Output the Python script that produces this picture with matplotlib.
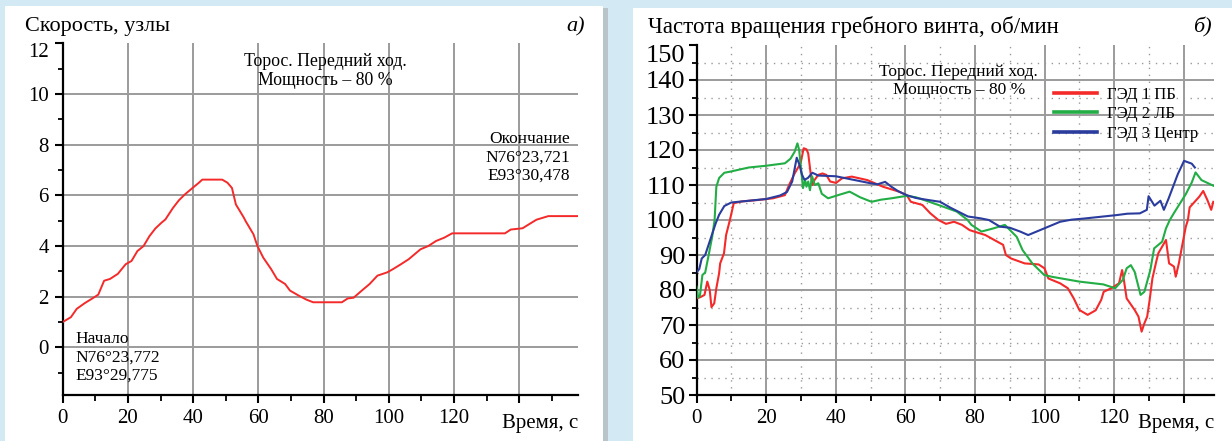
"""Speed and propeller RPM during an ice-ridge run (two panels)."""

import matplotlib.pyplot as plt
from matplotlib.patches import Rectangle
from matplotlib.lines import Line2D

plt.rcParams["font.family"] = ["Liberation Serif", "DejaVu Serif"]

# --- panel a: ship speed, knots ---
speed_t = [0, 2.5, 4.3, 6.7, 9.7, 10.9, 12.7, 14.5, 16.9, 19.3, 21.1, 22.9, 24.8,
           26.6, 28.4, 30.2, 31.5, 33.8, 35.6, 37.4, 39.8, 41.6, 42.8, 48.9, 50.5,
           51.9, 53.1, 55.5, 56.1, 58.5, 59.7, 61.5, 63.9, 65.7, 68.2, 69.7, 72.4,
           74.8, 76.8, 85.6, 87.4, 89.2, 91.7, 94.1, 96.5, 99.5, 101.3, 103.7,
           106.1, 108.5, 109.7, 112.1, 114.5, 117.0, 119.4, 135.6, 137.4, 141.0,
           143.5, 145.3, 148.9, 158]
speed_v = [1.0, 1.19, 1.52, 1.74, 1.98, 2.08, 2.63, 2.7, 2.9, 3.28, 3.41, 3.8, 4.0,
           4.39, 4.69, 4.91, 5.05, 5.5, 5.8, 6.03, 6.29, 6.48, 6.62, 6.62, 6.5,
           6.29, 5.64, 5.13, 4.98, 4.46, 4.0, 3.54, 3.09, 2.7, 2.5, 2.24, 2.04,
           1.88, 1.78, 1.78, 1.93, 1.96, 2.24, 2.5, 2.83, 2.96, 3.09, 3.28,
           3.48, 3.74, 3.87, 4.0, 4.2, 4.33, 4.5, 4.5, 4.65, 4.7,
           4.9, 5.04, 5.18, 5.18]

# --- panel b: propeller shaft speed, rpm ---
red_t = [0, 1.2, 2.3, 3.1, 3.8, 4.3, 5.1, 5.7, 6.5, 6.8, 7.9, 8.5, 9.6, 10.7, 13.0,
         17.5, 22.0, 25.4, 26.6, 28.2, 29.9, 30.8, 31.6, 32.1, 32.8, 33.3, 33.9,
         35.0, 36.2, 37.3, 38.4, 40.1, 41.8, 44.6, 49.1, 53.6, 58.2, 60.4, 61.6,
         64.9, 67.2, 69.5, 71.7, 74.0, 76.3, 78.5, 83.0, 88.1, 88.9, 90.4, 94.3,
         98.3, 100.0, 101.1, 104.5, 106.7, 108.4, 110.0, 112.4, 114.7, 116.3,
         117.0, 119.2, 121.4, 122.3, 122.8, 123.6, 125.9, 127.0, 127.9, 128.7,
         129.5, 130.2, 131.0, 132.1, 132.7, 133.8, 134.9, 135.8, 137.2, 137.7,
         138.6, 139.5, 140.6, 141.2, 141.7, 144.5, 145.6, 146.8, 147.9, 148.5]
red_v = [77.6, 78.0, 78.6, 82.4, 80.0, 75.1, 76.2, 80.5, 84.8, 87.6, 90.5, 95.7,
         100.0, 104.8, 105.3, 105.7, 106.2, 107.1, 110.0, 113.3, 116.2, 120.5,
         120.2, 119.0, 113.3, 110.0, 111.4, 112.9, 113.3, 112.9, 111.0, 110.6,
         111.9, 112.4, 111.4, 109.5, 108.1, 107.1, 105.2, 104.3, 101.9, 100.0,
         98.9, 99.5, 98.6, 97.1, 95.7, 92.9, 90.0, 89.0, 87.6, 87.3, 86.2, 83.3,
         81.9, 80.5, 77.6, 74.3, 72.9, 74.2, 77.2, 79.5, 80.5, 81.9, 85.7, 82.9,
         77.6, 74.3, 72.4, 68.1, 70.5, 72.4, 77.1, 83.3, 88.1, 90.5, 92.4, 94.3,
         87.6, 86.7, 83.8, 87.6, 92.4, 98.1, 100.0, 103.6, 106.7, 108.3, 105.7,
         102.9, 105.2]

green_t = [0, 0.5, 1.0, 1.7, 2.5, 3.4, 4.5, 5.2, 5.7, 6.5, 8.0, 9.6, 15, 20, 25.4,
           27.0, 28.2, 29.0, 29.5, 30.0, 30.6, 31.2, 31.6, 32.1, 32.6, 33.2, 34.0,
           35.0, 36.0, 37.8, 41.0, 44.0, 47.0, 50.3, 53.0, 56.0, 60.4, 63.0, 66.0,
           69.5, 74.8, 77.9, 79.0, 81.9, 85.3, 88.6, 92.0, 93.7, 96.5, 99.9, 102.0,
           110.0, 116.9, 120.3, 122.5, 123.6, 124.8, 125.9, 127.6, 128.7, 130.4,
           131.5, 133.8, 134.9, 136.0, 137.2, 140.6, 142.3, 143.4, 145.1, 148.5]
green_v = [81, 77.8, 78.5, 84.3, 85, 89.5, 95.2, 100, 109.5, 112, 113.5, 113.8,
           115, 115.5, 116.2, 117.5, 119.5, 121.9, 120, 115, 109.1, 111.5, 109.5,
           111, 108.5, 112.5, 110, 110.5, 107.5, 106.2, 107.2, 108.1, 106.5, 105.2,
           105.8, 106.2, 106.9, 106.5, 105.5, 104.3, 102.4, 100, 98.6, 96.7, 97.6,
           98.6, 95.2, 91.4, 87.6, 84.3, 83.8, 82.4, 81.6, 80.5, 82.9, 86.2, 87.1,
           85.2, 78.6, 79.5, 85.7, 91.9, 93.8, 97.6, 100, 102, 107.4, 110.7, 113.6,
           111.4, 109.8]

blue_t = [0, 0.8, 1.5, 2.5, 3.5, 4.5, 5.5, 6.5, 8, 10, 15, 20, 24, 26, 27.5, 28.8,
          29.5, 30.3, 31, 32, 33.3, 35, 40, 45, 50, 52, 54.2, 56, 58, 60.4, 63, 66,
          70, 73, 76, 78, 81.5, 84, 87.2, 90, 93, 95.3, 98.7, 104.5, 107.8, 111.2,
          115, 120.7, 123.8, 127.4, 129.4, 129.9, 131.6, 133.3, 134.3, 135.6,
          138.3, 140.1, 142.3, 143.2]
blue_v = [85, 86, 89, 90, 93, 96, 99, 101.5, 104, 105, 105.5, 106, 107, 108, 111,
          117.8, 116, 113, 111.5, 112, 113.5, 112.7, 112.5, 111.5, 110.5, 110.2,
          110.9, 109.5, 108.2, 107.1, 106.3, 105.8, 105.2, 103.5, 102, 101, 100.5,
          100, 98.1, 97.8, 96.7, 95.7, 97.1, 99.5, 100.1, 100.4, 100.8, 101.4,
          101.8, 101.9, 102.9, 106.8, 104.1, 105.5, 102.9, 106.0, 113.1, 116.9,
          116.1, 115]

motor_labels = ["ГЭД 1 ПБ", "ГЭД 2 ЛБ", "ГЭД 3 Центр"]
motor_colors = ["#f42a2a", "#22ad45", "#2a3c9e"]

W, H = 1232, 441
GRID = "#9b9b9b"


def style_axis(ax, xlabel_size, ylabel_size):
    for side in ("top", "right"):
        ax.spines[side].set_visible(False)
    for side in ("left", "bottom"):
        ax.spines[side].set_linewidth(1.6)
        ax.spines[side].set_color("black")
    ax.set_facecolor("white")
    ax.tick_params(axis="x", which="major", direction="out", length=6, width=1.5,
                   labelsize=xlabel_size, pad=4)
    ax.tick_params(axis="x", which="minor", direction="out", length=4, width=1.3)
    ax.tick_params(axis="y", which="major", direction="out", length=6, width=1.5,
                   labelsize=ylabel_size, pad=4)
    ax.tick_params(axis="y", which="minor", direction="out", length=3.5, width=1.3)


def solid_grid(ax, xs, ys):
    for x in xs:
        ax.axvline(x, color=GRID, linewidth=1.4, linestyle="solid", zorder=1.5)
    for y in ys:
        ax.axhline(y, color=GRID, linewidth=1.4, linestyle="solid", zorder=1.5)


fig = plt.figure(figsize=(W / 100, H / 100), dpi=100)
fig.patch.set_facecolor("#d3e9f3")
# white card backgrounds behind the two panels
for x0, w, top, col in [(5, 598, 6, "white"), (603, 5, 8, "#b9c4c9"),
                        (633, 600, 8, "white")]:
    fig.add_artist(Rectangle((x0 / W, 0), w / W, 1 - top / H, transform=fig.transFigure,
                             facecolor=col, edgecolor="none", zorder=-5))

# ---------------- panel a ----------------
ax1 = fig.add_axes([62.7 / W, 1 - 395 / H, 515.3 / W, 351.7 / H])
ax1.plot(speed_t, speed_v, color=motor_colors[0], lw=1.4, zorder=3)
ax1.set_xlim(0, 158)
ax1.set_ylim(-1.88, 12)
ax1.set_xticks(range(0, 141, 20))
ax1.set_xticklabels([str(v) for v in range(0, 121, 20)] + [""])
ax1.set_xticks(range(10, 160, 20), minor=True)
ax1.set_yticks(range(0, 13, 2))
ax1.set_yticks(range(-1, 12, 2), minor=True)
style_axis(ax1, 15, 15)
solid_grid(ax1, range(20, 141, 20), range(0, 11, 2))
ax1.yaxis.get_major_ticks()[-1].label1.set_va("top")
ax1.text(1.0, -0.055, "Время, с", transform=ax1.transAxes, ha="right", va="top",
         fontsize=15)

fig.text(25 / W, 1 - 27 / H, "Скорость, узлы", fontsize=16, va="center", ha="left")
fig.text(585 / W, 1 - 27 / H, "а)", fontsize=16, style="italic", va="center", ha="right")
ax1.text(0.51, 10.9, "Торос. Передний ход.\nМощность – 80 %", ha="center",
         va="center", fontsize=12.8, linespacing=1.15,
         transform=ax1.get_yaxis_transform())
ax1.text(0.985, 7.5, "Окончание\nN76°23,721\nE93°30,478", ha="right", va="center",
         fontsize=12.5, linespacing=1.2, transform=ax1.get_yaxis_transform())
ax1.text(0.025, -0.4, "Начало\nN76°23,772\nE93°29,775", ha="left", va="center",
         fontsize=12.5, linespacing=1.2, transform=ax1.get_yaxis_transform())

# ---------------- panel b ----------------
ax2 = fig.add_axes([696.5 / W, 1 - 395 / H, 517.5 / W, 350 / H])
for (tt, vv), c in zip([(red_t, red_v), (green_t, green_v), (blue_t, blue_v)],
                       motor_colors):
    ax2.plot(tt, vv, color=c, lw=1.5, zorder=3)
ax2.set_xlim(0, 148.7)
ax2.set_ylim(50, 150)
ax2.set_xticks(range(0, 141, 20))
ax2.set_xticklabels([str(v) for v in range(0, 121, 20)] + [""])
ax2.set_xticks(range(10, 150, 20), minor=True)
ax2.set_yticks(range(50, 151, 10))
ax2.set_yticks(range(55, 150, 10), minor=True)
style_axis(ax2, 15, 19)
ax2.tick_params(axis="y", which="major", pad=2)
solid_grid(ax2, range(20, 141, 20), range(60, 141, 10))
for x in range(10, 150, 20):
    ax2.axvline(x, color="#9a9a9a", lw=1.0, ls=(0, (1, 4)), zorder=1)
for y in range(55, 150, 10):
    ax2.axhline(y, color="#9a9a9a", lw=1.0, ls=(0, (1, 4)), zorder=1)
ax2.yaxis.get_major_ticks()[-1].label1.set_va("top")
ax2.text(1.0, -0.055, "Время, с", transform=ax2.transAxes, ha="right", va="top",
         fontsize=15)

fig.text(648 / W, 1 - 27 / H, "Частота вращения гребного винта, об/мин", fontsize=16.5,
         va="center", ha="left")
fig.text(1212 / W, 1 - 27 / H, "б)", fontsize=16, style="italic", va="center", ha="right")
ax2.text(0.507, 139.8, "Торос. Передний ход.\nМощность – 80 %", ha="center",
         va="center", fontsize=12.5, linespacing=1.15,
         transform=ax2.get_yaxis_transform())

handles = [Line2D([], [], color=c, lw=2.6) for c in motor_colors]
ax2.legend(handles, motor_labels, loc="upper left",
           bbox_to_anchor=(1054 / W, 1 - 87 / H), bbox_transform=fig.transFigure,
           frameon=False, fontsize=12, handlelength=2.6, handletextpad=0.6,
           labelspacing=0.2, borderpad=0, borderaxespad=0)

fig.savefig("out.png", dpi=100, facecolor=fig.get_facecolor())
